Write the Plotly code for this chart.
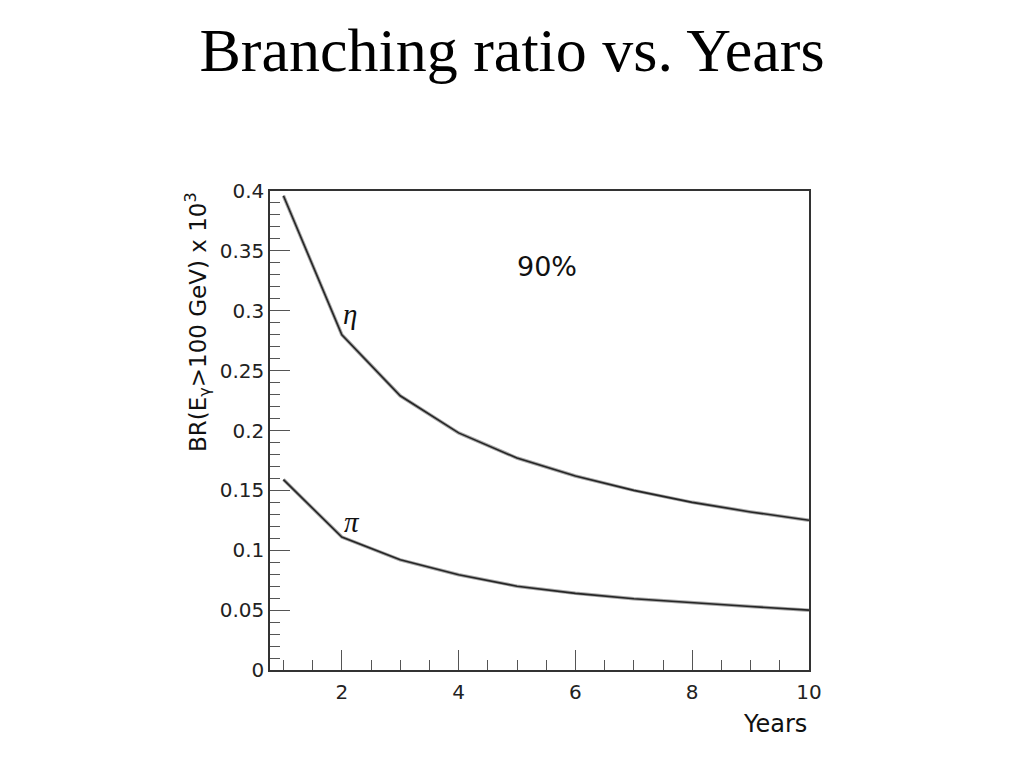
import plotly.graph_objects as go

years = [1, 2, 3, 4, 5, 6, 7, 8, 9, 10]
br_eta = [0.396, 0.280, 0.229, 0.198, 0.177, 0.162, 0.150, 0.140, 0.132, 0.125]
br_pi = [0.159, 0.111, 0.092, 0.0795, 0.070, 0.064, 0.0595, 0.056, 0.053, 0.050]

x_ticks = [2, 4, 6, 8, 10]
y_ticks = [0, 0.05, 0.1, 0.15, 0.2, 0.25, 0.3, 0.35, 0.4]
y_tick_labels = ["0", "0.05", "0.1", "0.15", "0.2", "0.25", "0.3", "0.35", "0.4"]

OFF = 8  # default page body margin
W, H = 1024 - 2 * OFF, 768 - 2 * OFF
L, R, T, B = 270 - OFF, 809 - OFF, 191 - OFF, 670 - OFF

def px(xp):
    return (xp - OFF - L) / (R - L)

def py(yp):
    return (B - (yp - OFF)) / (B - T)

SANS = "DejaVu Sans, Liberation Sans, Arial, sans-serif"

fig = go.Figure()
for ys in (br_eta, br_pi):
    fig.add_trace(go.Scatter(x=years, y=ys, mode="lines",
                             line=dict(color="#a8a8a8", width=3.5), hoverinfo="skip",
                             showlegend=False))
    fig.add_trace(go.Scatter(x=years, y=ys, mode="lines",
                             line=dict(color="#262626", width=1.6), showlegend=False))

axis_common = dict(
    showgrid=False, zeroline=False, showline=True, linecolor="#333", linewidth=1.5,
    mirror=True, ticks="inside", ticklen=20, tickwidth=1, tickcolor="#555",
    tickfont=dict(family=SANS, size=20, color="#222"),
)

fig.update_xaxes(range=[0.77, 10], tickvals=x_ticks, ticktext=[str(v) for v in x_ticks],
                 minor=dict(dtick=0.5, ticks="inside", ticklen=10, tickcolor="#555"),
                 ticklabelstandoff=3, **axis_common)
fig.update_yaxes(range=[0, 0.4], tickvals=y_ticks, ticktext=y_tick_labels,
                 minor=dict(dtick=0.01, ticks="inside", ticklen=10, tickcolor="#555"),
                 **axis_common)

fig.update_layout(
    width=W, height=H,
    margin=dict(l=L, r=W - R, t=T, b=H - B),
    paper_bgcolor="white", plot_bgcolor="white",
    title=dict(text="Branching ratio vs. Years", x=0.5, xanchor="center",
               y=1 - (49 - OFF) / H, yanchor="middle",
               font=dict(family="Liberation Serif, Times New Roman, serif", size=62, color="black")),
    annotations=[
        dict(text="90%", x=px(547), y=py(266), xref="paper", yref="paper", showarrow=False,
             xanchor="center", yanchor="middle",
             font=dict(family=SANS, size=27, color="#111")),
        dict(text="<i>η</i>", x=2.14, y=0.297, xref="x", yref="y", showarrow=False,
             font=dict(family="Liberation Serif, serif", size=29, color="#111")),
        dict(text="<i>π</i>", x=2.17, y=0.124, xref="x", yref="y", showarrow=False,
             font=dict(family="Liberation Serif, serif", size=29, color="#111")),
        dict(text="Years", x=1.0, y=py(724), xref="paper", yref="paper", showarrow=False,
             xanchor="right", yanchor="middle",
             font=dict(family=SANS, size=24, color="#111")),
        dict(text="BR(E<sub>γ</sub>>100 GeV) x 10<sup>3</sup>", x=px(197), y=py(322),
             xref="paper", yref="paper", showarrow=False, textangle=-90,
             xanchor="center", yanchor="middle",
             font=dict(family=SANS, size=23, color="#111")),
    ],
)

fig.write_html("out.html")
